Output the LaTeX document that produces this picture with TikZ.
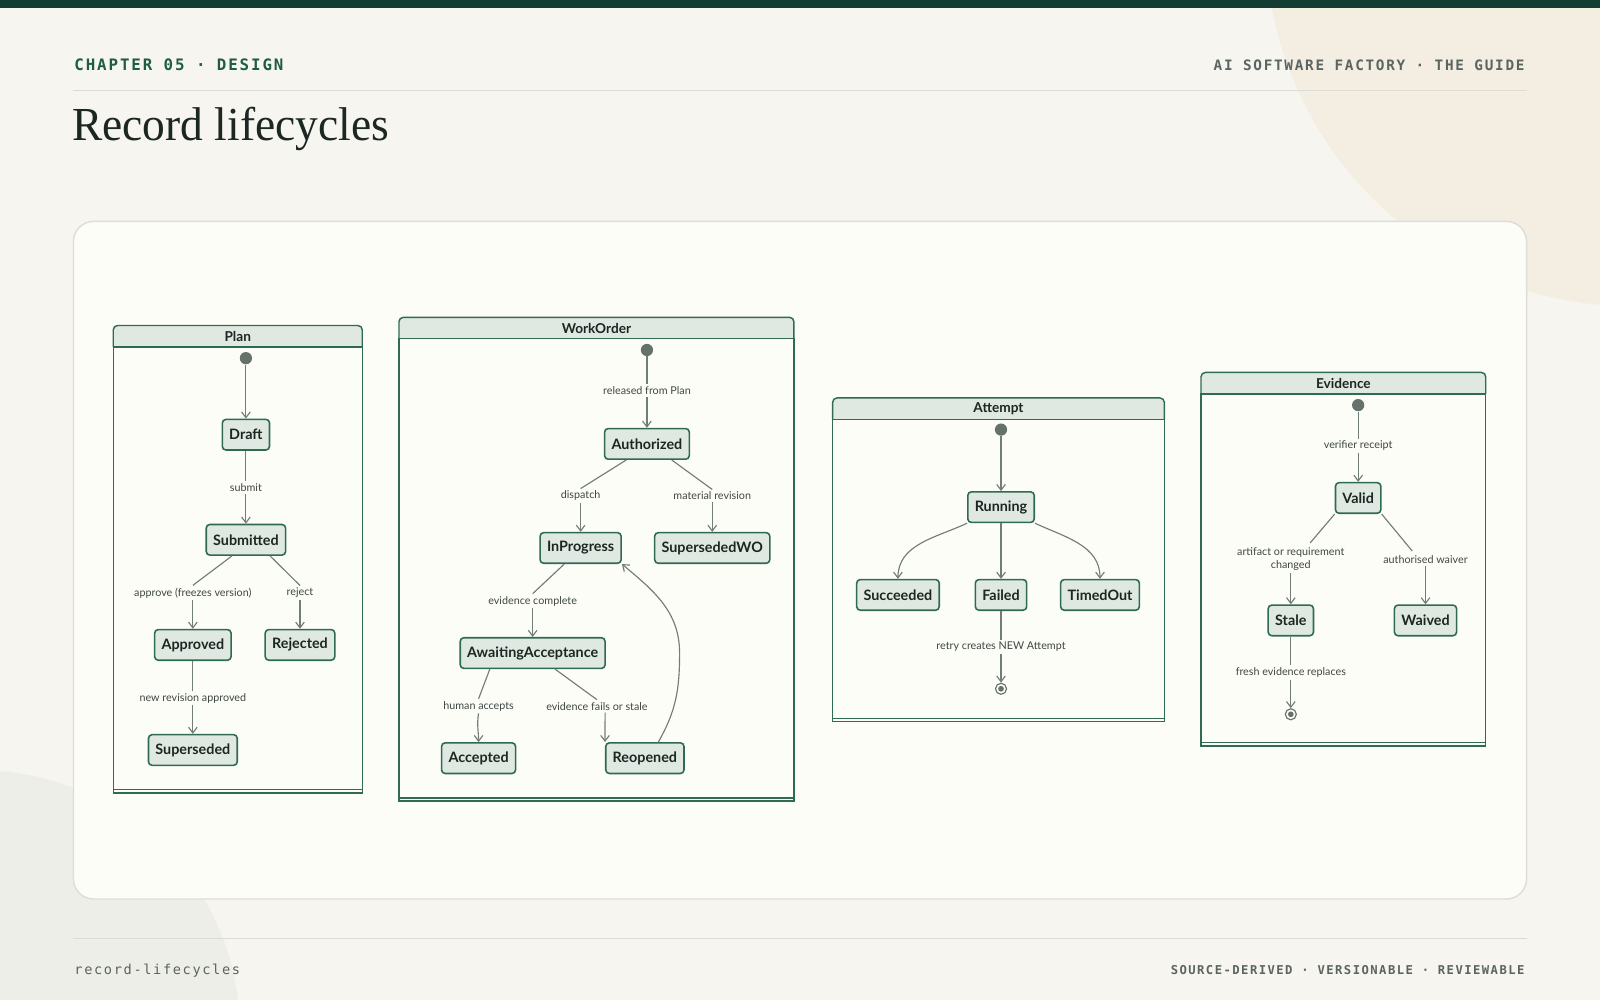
\documentclass[tikz,border=0pt]{standalone}
\usepackage{fontspec}
\setmainfont{Lato}
\newfontfamily\monof[LetterSpace=12]{DejaVu Sans Mono}
\newfontfamily\titlef{Liberation Serif}
\usepackage{xcolor}
\usetikzlibrary{arrows.meta, positioning}
\definecolor{pagebg}{HTML}{F6F5F0}
\definecolor{panelbg}{HTML}{FDFDF8}
\definecolor{darkgreen}{HTML}{123D32}
\definecolor{stfill}{HTML}{DFE8E1}
\definecolor{stline}{HTML}{2F6A55}
\definecolor{edgec}{HTML}{737D77}
\definecolor{inkc}{HTML}{1C2622}
\definecolor{blobwarm}{HTML}{F3EDE2}
\definecolor{blobgray}{HTML}{EEEEE9}
\definecolor{rulec}{HTML}{DCDCD6}
\definecolor{chapc}{HTML}{1F5C45}
\definecolor{mutedc}{HTML}{5A6460}
\definecolor{panelline}{HTML}{DEDED8}
\tikzset{
  state/.style={draw=stline, fill=stfill, line width=1.1pt, rounded corners=2.5pt,
    minimum height=0.75cm, inner xsep=0.17cm, font=\fontsize{10}{12}\selectfont\bfseries, text=inkc},
  lbl/.style={fill=panelbg, inner sep=1.5pt, font=\fontsize{7.5}{9}\selectfont, text=inkc!85, align=center},
  edge/.style={draw=edgec, line width=0.8pt},
  arr/.style={edge, -{Straight Barb[length=4pt,width=6pt]}},
  init/.style={circle, fill=edgec!90!black, inner sep=0pt, minimum size=0.3cm},
  final/.style={circle, draw=edgec!90!black, line width=0.8pt, inner sep=0pt, minimum size=0.27cm,
    path picture={\fill[edgec!90!black] (path picture bounding box.center) circle (0.07cm);}},
}
\begin{document}
\begin{tikzpicture}[x=0.025cm, y=-0.025cm]
  % page
  \fill[pagebg] (0,0) rectangle (1568,980);
  \useasboundingbox (0,0) rectangle (1568,980);
  \begin{scope}
    \clip (0,0) rectangle (1568,980);
    \fill[blobwarm] (1600,-60) circle (360);
    \fill[blobgray] (-20,1010) circle (255);
  \end{scope}
  \fill[darkgreen] (0,0) rectangle (1568,8);
  \draw[rulec, line width=0.6pt] (72,89) -- (1496,89);
  \draw[rulec, line width=0.6pt] (72,920) -- (1496,920);
  \node[anchor=west, text=chapc, font=\monof\fontsize{11}{13}\selectfont\bfseries] (chap) at (68,63) {CHAPTER 05 · DESIGN};
  \node[anchor=east, text=mutedc, font=\monof\fontsize{10}{12}\selectfont\bfseries] (guide) at (1499,64) {AI SOFTWARE FACTORY · THE GUIDE};
  \node[anchor=west, text=inkc, font=\titlef\fontsize{33}{38}\selectfont, xscale=0.96] (title) at (66,126) {Record lifecycles};
  \node[anchor=west, text=mutedc, font=\monof\fontsize{9.5}{11}\selectfont] (slug) at (68,951) {record-lifecycles};
  \node[anchor=east, text=mutedc, font=\monof\fontsize{8.5}{10}\selectfont\bfseries] (tags) at (1499,951) {SOURCE-DERIVED · VERSIONABLE · REVIEWABLE};
  % panel
  \draw[fill=panelbg, draw=panelline, line width=1pt, rounded corners=14pt] (72,217) rectangle (1496,881);
  % composite boxes
  \foreach \xa/\ya/\xb/\yb/\nm in {111/319/355/777/Plan, 391/311/778/785/WorkOrder, 816/390/1141/707/Attempt, 1177/365/1456/731/Evidence}{
    \draw[stline, line width=1pt, fill=stfill, rounded corners=3pt] (\xa,\ya+21) -- (\xa,\ya) -- (\xb,\ya) -- (\xb,\ya+21);
    \draw[stline, line width=1pt] (\xa,\ya+21) -- (\xa,\yb) -- (\xb,\yb) -- (\xb,\ya+21) -- cycle;
    \draw[stline, line width=0.8pt] (\xa,\yb-3) -- (\xb,\yb-3);
    \node[font=\fontsize{9.5}{11}\selectfont\bfseries, text=inkc] at ({(\xa+\xb)/2},\ya+10.5) {\nm};
  }
  % Plan
  \node[init] (p0) at (241,351) {};
  \node[state] (draft) at (241,426) {Draft};
  \node[lbl] (lsub) at (241,478) {submit};
  \node[state] (subm) at (241,529) {Submitted};
  \node[lbl] (lapp) at (189,581) {approve (freezes version)};
  \node[lbl] (lrej) at (294,581) {reject};
  \node[state] (appr) at (189,632) {Approved};
  \node[state] (rejd) at (294,632) {Rejected};
  \node[lbl] (lnew) at (189,684) {new revision approved};
  \node[state] (supd) at (189,735) {Superseded};
  \draw[arr] (p0) -- (draft);
  \draw[edge] (draft) -- (lsub);
  \draw[arr] (lsub) -- (subm);
  \draw[edge] (subm.south west) ++(26,0) -- (lapp.north);
  \draw[arr] (lapp) -- (appr);
  \draw[edge] (subm.south east) ++(-16,0) -- (lrej.north);
  \draw[arr] (lrej) -- (rejd);
  \draw[edge] (appr) -- (lnew);
  \draw[arr] (lnew) -- (supd);
  % WorkOrder
  \node[init] (w0) at (634,343) {};
  \node[lbl] (lrel) at (634,383) {released from Plan};
  \node[state] (auth) at (634,435) {Authorized};
  \node[lbl] (ldis) at (569,486) {dispatch};
  \node[lbl] (lmat) at (698,486) {material revision};
  \node[state] (inpr) at (569,537) {InProgress};
  \node[state] (swo) at (698,537) {SupersededWO};
  \node[lbl] (levc) at (522,589) {evidence complete};
  \node[state] (await) at (522,640) {AwaitingAcceptance};
  \node[lbl] (lhum) at (469,692) {human accepts};
  \node[lbl] (lfail) at (585,692) {evidence fails or stale};
  \node[state] (accd) at (469,743) {Accepted};
  \node[state] (reop) at (632,743) {Reopened};
  \draw[edge] (w0) -- (lrel);
  \draw[arr] (lrel) -- (auth);
  \draw[edge] (auth.south west) ++(22,0) -- (ldis.north);
  \draw[arr] (ldis) -- (inpr);
  \draw[edge] (auth.south east) ++(-18,0) -- (lmat.north);
  \draw[arr] (lmat) -- (swo);
  \draw[edge] (inpr.south) ++(-16,0) -- (levc.north);
  \draw[arr] (levc) -- (await);
  \draw[edge] (await.south) ++(-42,0) -- (lhum.north);
  \draw[arr] (lhum.south) to[out=-100, in=90] (accd.north);
  \draw[edge] (await.south) ++(22,0) -- (lfail.north);
  \draw[arr] (lfail.south) ++(8,0) -- (reop.north west);
  \draw[arr] (reop.north east) ++(-26,0) to[out=60, in=-90] (666,640) to[out=90, in=-40] (inpr.south east);
  % Attempt
  \node[init] (a0) at (981,421) {};
  \node[state] (run) at (981,497) {Running};
  \node[state] (succ) at (880,583) {Succeeded};
  \node[state] (fail) at (981,583) {Failed};
  \node[state] (tout) at (1078,583) {TimedOut};
  \node[lbl] (lret) at (981,634) {retry creates NEW Attempt};
  \node[final] (a1) at (981,675) {};
  \draw[arr] (a0) -- (run);
  \draw[arr] (run.south west) to[out=-155, in=90] (succ.north);
  \draw[arr] (run) -- (fail);
  \draw[arr] (run.south east) to[out=-25, in=90] (tout.north);
  \draw[edge] (fail) -- (lret);
  \draw[arr] (lret) -- (a1);
  % Evidence
  \node[init] (e0) at (1331,397) {};
  \node[lbl] (lver) at (1331,437) {verifier receipt};
  \node[state] (valid) at (1331,488) {Valid};
  \node[lbl] (lart) at (1265,548) {artifact or requirement\\changed};
  \node[lbl] (lwai) at (1397,548) {authorised waiver};
  \node[state] (stale) at (1265,608) {Stale};
  \node[state] (waiv) at (1397,608) {Waived};
  \node[lbl] (lfre) at (1265,659) {fresh evidence replaces};
  \node[final] (e1) at (1265,700) {};
  \draw[edge] (e0) -- (lver);
  \draw[arr] (lver) -- (valid);
  \draw[edge] (valid.south west) -- (1284,532);
  \draw[arr] (lart) -- (stale);
  \draw[edge] (valid.south east) -- (1384,540);
  \draw[arr] (lwai) -- (waiv);
  \draw[edge] (stale) -- (lfre);
  \draw[arr] (lfre) -- (e1);
\end{tikzpicture}
\end{document}
